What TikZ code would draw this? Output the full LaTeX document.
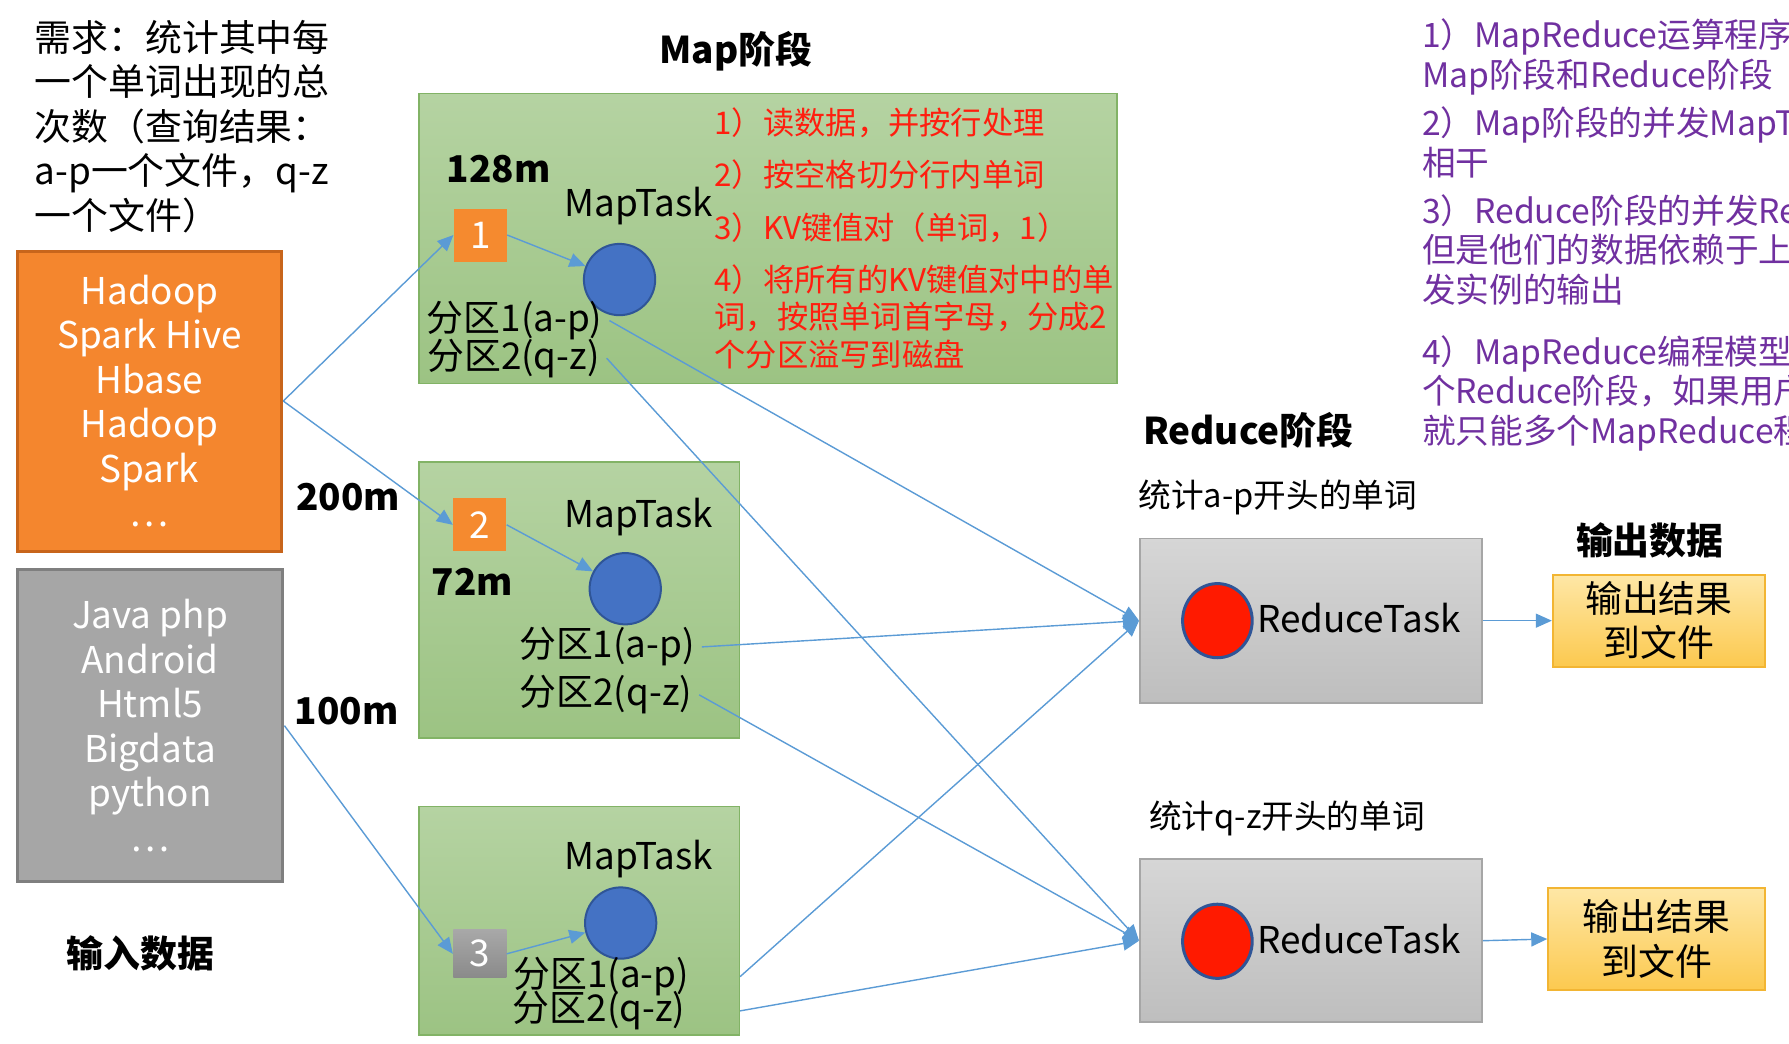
\documentclass[tikz,border=0pt]{standalone}
\usepackage{fontspec}
\setmainfont{Noto Sans CJK SC}
\usetikzlibrary{arrows.meta,shapes.geometric}

\definecolor{flowblue}{HTML}{5B9BD5}
\definecolor{greentop}{HTML}{B5D3A2}
\definecolor{greenbot}{HTML}{9CC383}
\definecolor{greenedge}{HTML}{82B366}
\definecolor{taskblue}{HTML}{4472C4}
\definecolor{taskedge}{HTML}{2F5597}
\definecolor{redfill}{HTML}{FF1A00}
\definecolor{hadooporange}{HTML}{F4862E}
\definecolor{orangeedge}{HTML}{C8651B}
\definecolor{inputgray}{HTML}{A6A6A6}
\definecolor{grayedge}{HTML}{7F7F7F}
\definecolor{splitorange}{HTML}{F58A2F}
\definecolor{splitgraytop}{HTML}{A8A8A8}
\definecolor{splitgraybot}{HTML}{8A8A8A}
\definecolor{reducetop}{HTML}{D6D6D6}
\definecolor{reducebot}{HTML}{BEBEBE}
\definecolor{reduceedge}{HTML}{A6A6A6}
\definecolor{outtop}{HTML}{FEE7A6}
\definecolor{outbot}{HTML}{FCC94F}
\definecolor{outedge}{HTML}{F2B533}
\definecolor{notered}{HTML}{FF1E0F}
\definecolor{notepurple}{HTML}{7030A0}

\newcommand{\txtbig}{\fontsize{18.4pt}{22.2pt}\selectfont}
\newcommand{\txtmid}{\fontsize{16.3pt}{19.6pt}\selectfont}
\newcommand{\txtred}{\fontsize{15.6pt}{18.7pt}\selectfont}
\newcommand{\txtpurple}{\fontsize{16.8pt}{19.8pt}\selectfont}

\begin{document}
\begin{tikzpicture}[x=0.02cm, y=-0.02cm, >={Triangle[length=8pt,width=7pt]},
  mapbox/.style={draw=greenedge, line width=0.8pt, top color=greentop, bottom color=greenbot, inner sep=0},
  split/.style={text=white, font=\txtbig, inner sep=0, minimum width=0.93cm, minimum height=0.93cm},
  task/.style={circle, draw=taskedge, line width=1pt, fill=taskblue, minimum size=1.25cm, inner sep=0},
  rtask/.style={ellipse, draw=taskedge, line width=1.5pt, fill=redfill, minimum width=1.22cm, minimum height=1.3cm, inner sep=0},
  reducebox/.style={draw=reduceedge, line width=0.8pt, top color=reducetop, bottom color=reducebot, minimum width=6cm},
  outbox/.style={draw=outedge, line width=1pt, top color=outtop, bottom color=outbot, align=center, font=\txtbig},
  title/.style={font=\txtbig\bfseries},
  flow/.style={->, draw=flowblue, line width=0.7pt}]
\useasboundingbox (0,0) rectangle (1568,915);
\clip (0,0) rectangle (1568,915);

% input data
\node[anchor=west, align=left, font=\txtbig, inner sep=0] (ask) at (30,111) {需求：统计其中每\\一个单词出现的总\\次数（查询结果：\\a-p一个文件，q-z\\一个文件）};
\node[draw=orangeedge, line width=1.5pt, fill=hadooporange, text=white, align=center, font=\txtbig,
  minimum width=4.64cm, minimum height=5.26cm] (inA) at (131,351.5) {Hadoop\\Spark Hive\\Hbase\\Hadoop\\Spark\\…};
\node[draw=grayedge, line width=1.5pt, fill=inputgray, text=white, align=center, font=\txtbig,
  minimum width=4.66cm, minimum height=5.48cm] (inB) at (131.5,636) {Java php\\Android\\Html5\\Bigdata\\python\\…};
\node[title] (intitle) at (123,836) {输入数据};
\node[title] (size2) at (305,436) {200m};
\node[title] (size3) at (304,623) {100m};

% map stage
\node[mapbox, minimum width=12.24cm, minimum height=5.08cm] (map1) at (673,209) {};
\node[mapbox, minimum width=5.62cm, minimum height=4.84cm] (map2) at (507.5,526) {};
\node[mapbox, minimum width=5.62cm, minimum height=4cm] (map3) at (507.5,807) {};
\node[title] (maptitle) at (645,45) {Map阶段};

\node[title] (size1) at (437,148) {128m};
\node[split, fill=splitorange] (s1) at (421,206) {1};
\node[font=\txtbig] (t1) at (560,181) {MapTask};
\node[task] (c1) at (543,245) {};
\node[font=\txtbig] (p11) at (451,281) {分区1(a-p)};
\node[font=\txtbig] (p12) at (450,314) {分区2(q-z)};
\node[anchor=north west, align=left, font=\txtred, text=notered, inner sep=0] (steps) at (626,94)
  {1）读数据，并按行处理\\[7.4pt]2）按空格切分行内单词\\[7.4pt]3）KV键值对（单词，1）\\[7.4pt]4）将所有的KV键值对中的单\\词，按照单词首字母，分成2\\个分区溢写到磁盘};

\node[split, fill=splitorange] (s2) at (420.5,460) {2};
\node[font=\txtbig] (t2) at (560,453) {MapTask};
\node[title] (size4) at (414,510) {72m};
\node[task] (c2) at (548,516) {};
\node[font=\txtbig] (p21) at (532,567) {分区1(a-p)};
\node[font=\txtbig] (p22) at (531,609) {分区2(q-z)};

\node[split, top color=splitgraytop, bottom color=splitgraybot, minimum height=0.84cm] (s3) at (420.5,836) {3};
\node[font=\txtbig] (t3) at (560,753) {MapTask};
\node[task] (c3) at (544,809) {};
\node[font=\txtbig] (p31) at (527,856) {分区1(a-p)};
\node[font=\txtbig] (p32) at (525,886) {分区2(q-z)};

% reduce stage
\node[title] (redtitle) at (1094,377) {Reduce阶段};
\node[font=\txtmid] (rlab1) at (1120,436) {统计a-p开头的单词};
\node[reducebox, minimum height=2.88cm] (r1) at (1149,544) {};
\node[rtask] (rc1) at (1067,544) {};
\node[font=\txtbig] (rt1) at (1191,542) {ReduceTask};
\node[font=\txtmid] (rlab2) at (1128,717) {统计q-z开头的单词};
\node[reducebox, minimum height=2.86cm] (r2) at (1149,824.5) {};
\node[rtask] (rc2) at (1067,825) {};
\node[font=\txtbig] (rt2) at (1191,823) {ReduceTask};

% output
\node[title] (outtitle) at (1446,474) {输出数据};
\node[outbox, minimum width=3.72cm, minimum height=1.6cm] (o1) at (1454,544) {输出结果\\到文件};
\node[outbox, minimum width=3.8cm, minimum height=1.8cm] (o2) at (1452,823) {输出结果\\到文件};

% notes
\node[anchor=north west, align=left, font=\txtpurple, text=notepurple, inner sep=0] (notes) at (1246,16)
  {1）MapReduce运算程序一\\Map阶段和Reduce阶段\\[4.5pt]2）Map阶段的并发MapTa\\相干\\[4pt]3）Reduce阶段的并发Re\\但是他们的数据依赖于上一\\发实例的输出\\[10.8pt]4）MapReduce编程模型只\\个Reduce阶段，如果用户\\就只能多个MapReduce程};

% connectors
\draw[flow] (inA.east) -- (s1.west);
\draw[flow] (inA.east) -- (s2.west);
\draw[flow] (inB.east) -- (s3.west);
\draw[flow] (s1.east) -- (c1);
\draw[flow] (s2.east) -- (c2);
\draw[flow] (s3.east) -- (c3);
\draw[flow] (p11.east) -- (r1.west);
\draw[flow] (p12.east) -- (r2.west);
\draw[flow] (p21.east) -- (r1.west);
\draw[flow] (p22.east) -- (r2.west);
\draw[flow] (map3.east |- p31) -- (r1.west);
\draw[flow] (map3.east |- p32) -- (r2.west);
\draw[flow] (r1.east) -- (o1.west);
\draw[flow] (r2.east) -- (o2.west);
\end{tikzpicture}
\end{document}
